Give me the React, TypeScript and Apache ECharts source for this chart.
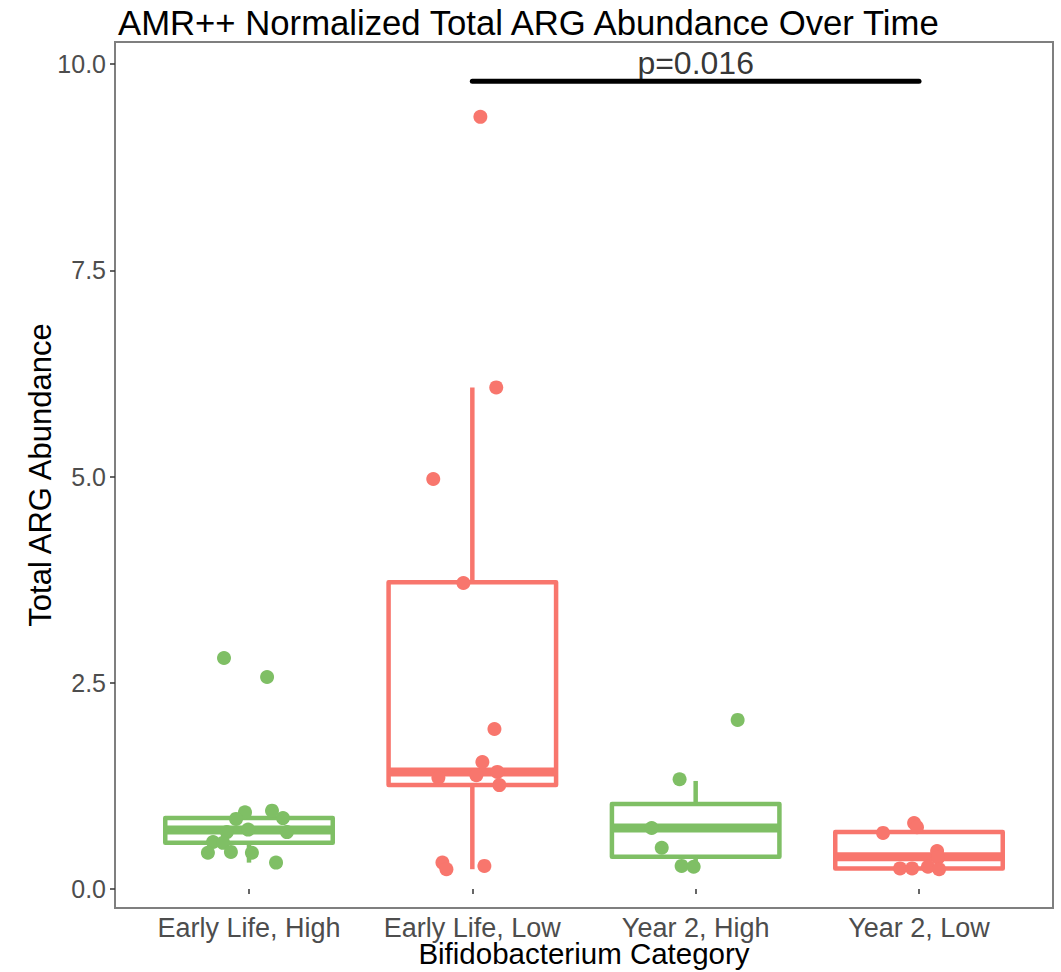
import React, { useEffect, useRef } from "react";
import * as echarts from "echarts";

const categories = ["Early Life, High", "Early Life, Low", "Year 2, High", "Year 2, Low"];
const groupColors = ["#7FBF65", "#F8766D", "#7FBF65", "#F8766D"];

// box statistics per group: [lower whisker, q1, median, q3, upper whisker]
const boxEarlyHigh = [0.32, 0.56, 0.715, 0.86, 0.95];
const boxEarlyLow = [0.24, 1.26, 1.42, 3.72, 6.08];
const boxYear2High = [0.27, 0.39, 0.74, 1.03, 1.31];
const boxYear2Low = [0.24, 0.25, 0.39, 0.69, 0.8];

// jittered points: values and horizontal jitter (in category units)
const valsEarlyHigh = [2.8, 2.57, 0.93, 0.95, 0.86, 0.85, 0.72, 0.69, 0.69, 0.57, 0.56, 0.44, 0.45, 0.44, 0.32];
const jitEarlyHigh = [-0.112, 0.081, -0.018, 0.103, 0.152, -0.058, -0.004, 0.17, -0.099, -0.161, -0.116, -0.184, -0.081, 0.013, 0.121];

const valsEarlyLow = [9.36, 6.08, 4.97, 3.71, 1.94, 1.54, 1.42, 1.38, 1.35, 1.26, 0.32, 0.24, 0.28];
const jitEarlyLow = [0.036, 0.107, -0.175, -0.04, 0.099, 0.045, 0.112, 0.018, -0.152, 0.121, -0.134, -0.116, 0.054];

const valsYear2High = [2.05, 1.33, 0.74, 0.5, 0.28, 0.27];
const jitYear2High = [0.188, -0.072, -0.197, -0.152, -0.063, -0.009];

const valsYear2Low = [0.68, 0.8, 0.75, 0.46, 0.38, 0.25, 0.25, 0.27, 0.24];
const jitYear2Low = [-0.161, -0.022, -0.009, 0.081, 0.085, -0.085, -0.031, 0.04, 0.09];

const yTicks = [0, 2.5, 5, 7.5, 10];

const sigFrom = 2;
const sigTo = 4;
const sigY = 9.79;
const sigLabel = "p=0.016";

const FONT = "'Liberation Sans', Arial, sans-serif";

export default function App() {
  const ref = useRef<HTMLDivElement>(null);

  useEffect(() => {
    if (!ref.current) return;
    const chart = echarts.init(ref.current, null, { renderer: "svg" });

    const boxes = [boxEarlyHigh, boxEarlyLow, boxYear2High, boxYear2Low];
    const vals = [valsEarlyHigh, valsEarlyLow, valsYear2High, valsYear2Low];
    const jits = [jitEarlyHigh, jitEarlyLow, jitYear2High, jitYear2Low];
    const boxWidth = 0.75;

    const boxData = boxes.map((b, i) => [i + 1, ...b]);

    const scatterSeries = vals.map((v, gi) => ({
      type: "scatter",
      z: 4,
      symbol: "circle",
      symbolSize: 14,
      itemStyle: { color: groupColors[gi], opacity: 1 },
      data: v.map((y, k) => [gi + 1 + jits[gi][k], y]),
      silent: true,
    }));

    chart.setOption({
      animation: false,
      backgroundColor: "#ffffff",
      title: {
        text: "AMR++ Normalized Total ARG Abundance Over Time",
        left: 113,
        top: 0,
        textStyle: { fontFamily: FONT, fontSize: 34.7, fontWeight: "normal", color: "#000000" },
      },
      grid: {
        left: 115,
        right: 8,
        top: 42,
        bottom: 64,
        outerBoundsMode: "none",
        containLabel: false,
        show: true,
        borderColor: "#7F7F7F",
        borderWidth: 2,
        backgroundColor: "transparent",
      },
      xAxis: {
        type: "value",
        min: 0.4,
        max: 4.6,
        name: "Bifidobacterium Category",
        nameLocation: "middle",
        nameGap: 33.75,
        nameMoveOverlap: false,
        nameTextStyle: { fontFamily: FONT, fontSize: 29.5, lineHeight: 24, color: "#000000" },
        axisLine: { show: false },
        splitLine: { show: false },
        axisTick: {
          show: true,
          length: 5,
          customValues: [1, 2, 3, 4],
          lineStyle: { color: "#333333", width: 1.5 },
        },
        axisLabel: {
          show: true,
          customValues: [1, 2, 3, 4],
          margin: 8.5,
          fontFamily: FONT,
          fontSize: 27,
          lineHeight: 22,
          color: "#4D4D4D",
          formatter: (v: number) => categories[Math.round(v) - 1] || "",
        },
      },
      yAxis: {
        type: "value",
        min: -0.23,
        max: 10.267,
        name: "Total ARG Abundance",
        nameLocation: "middle",
        nameGap: 59,
        nameMoveOverlap: false,
        nameTextStyle: { fontFamily: FONT, fontSize: 31, color: "#000000" },
        axisLine: { show: false },
        splitLine: { show: false },
        axisTick: {
          show: true,
          length: 5,
          customValues: yTicks,
          lineStyle: { color: "#333333", width: 1.5 },
        },
        axisLabel: {
          show: true,
          customValues: yTicks,
          margin: 9,
          fontFamily: FONT,
          fontSize: 25,
          color: "#4D4D4D",
          formatter: (v: number) => v.toFixed(1),
        },
      },
      series: [
        {
          type: "custom",
          z: 2,
          silent: true,
          data: boxData,
          encode: { x: 0, y: [1, 2, 3, 4, 5] },
          renderItem: (params: any, api: any) => {
            const x = api.value(0);
            const mn = api.value(1);
            const q1 = api.value(2);
            const md = api.value(3);
            const q3 = api.value(4);
            const mx = api.value(5);
            const color = groupColors[params.dataIndex];
            const h = boxWidth / 2;
            const tl = api.coord([x - h, q3]);
            const br = api.coord([x + h, q1]);
            const cMin = api.coord([x, mn]);
            const cMax = api.coord([x, mx]);
            const cQ1 = api.coord([x, q1]);
            const cQ3 = api.coord([x, q3]);
            const mL = api.coord([x - h, md]);
            const mR = api.coord([x + h, md]);
            const lw = 4.5;
            return {
              type: "group",
              children: [
                {
                  type: "line",
                  shape: { x1: cQ3[0], y1: cQ3[1], x2: cMax[0], y2: cMax[1] },
                  style: { stroke: color, lineWidth: lw, lineCap: "butt" },
                },
                {
                  type: "line",
                  shape: { x1: cQ1[0], y1: cQ1[1], x2: cMin[0], y2: cMin[1] },
                  style: { stroke: color, lineWidth: lw, lineCap: "butt" },
                },
                {
                  type: "rect",
                  shape: { x: tl[0], y: tl[1], width: br[0] - tl[0], height: br[1] - tl[1] },
                  style: { fill: "none", stroke: color, lineWidth: lw, lineJoin: "round" },
                },
                {
                  type: "line",
                  shape: { x1: mL[0], y1: mL[1], x2: mR[0], y2: mR[1] },
                  style: { stroke: color, lineWidth: lw * 2, lineCap: "butt" },
                },
              ],
            };
          },
        },
        ...scatterSeries,
        {
          type: "line",
          z: 5,
          silent: true,
          symbol: "none",
          data: [
            [sigFrom, sigY],
            [sigTo, sigY],
          ],
          lineStyle: { color: "#000000", width: 5, cap: "round" },
        },
        {
          type: "scatter",
          z: 5,
          silent: true,
          symbolSize: 0,
          data: [[(sigFrom + sigTo) / 2, sigY]],
          label: {
            show: true,
            position: "top",
            distance: 2,
            formatter: sigLabel,
            fontFamily: FONT,
            fontSize: 32,
            color: "#000000",
            textBorderWidth: 0,
          },
        },
      ],
    });

    return () => {
      chart.dispose();
    };
  }, []);

  return (
    <div
      ref={ref}
      style={{ position: "absolute", left: 0, top: 0, width: 1061, height: 972 }}
    />
  );
}
